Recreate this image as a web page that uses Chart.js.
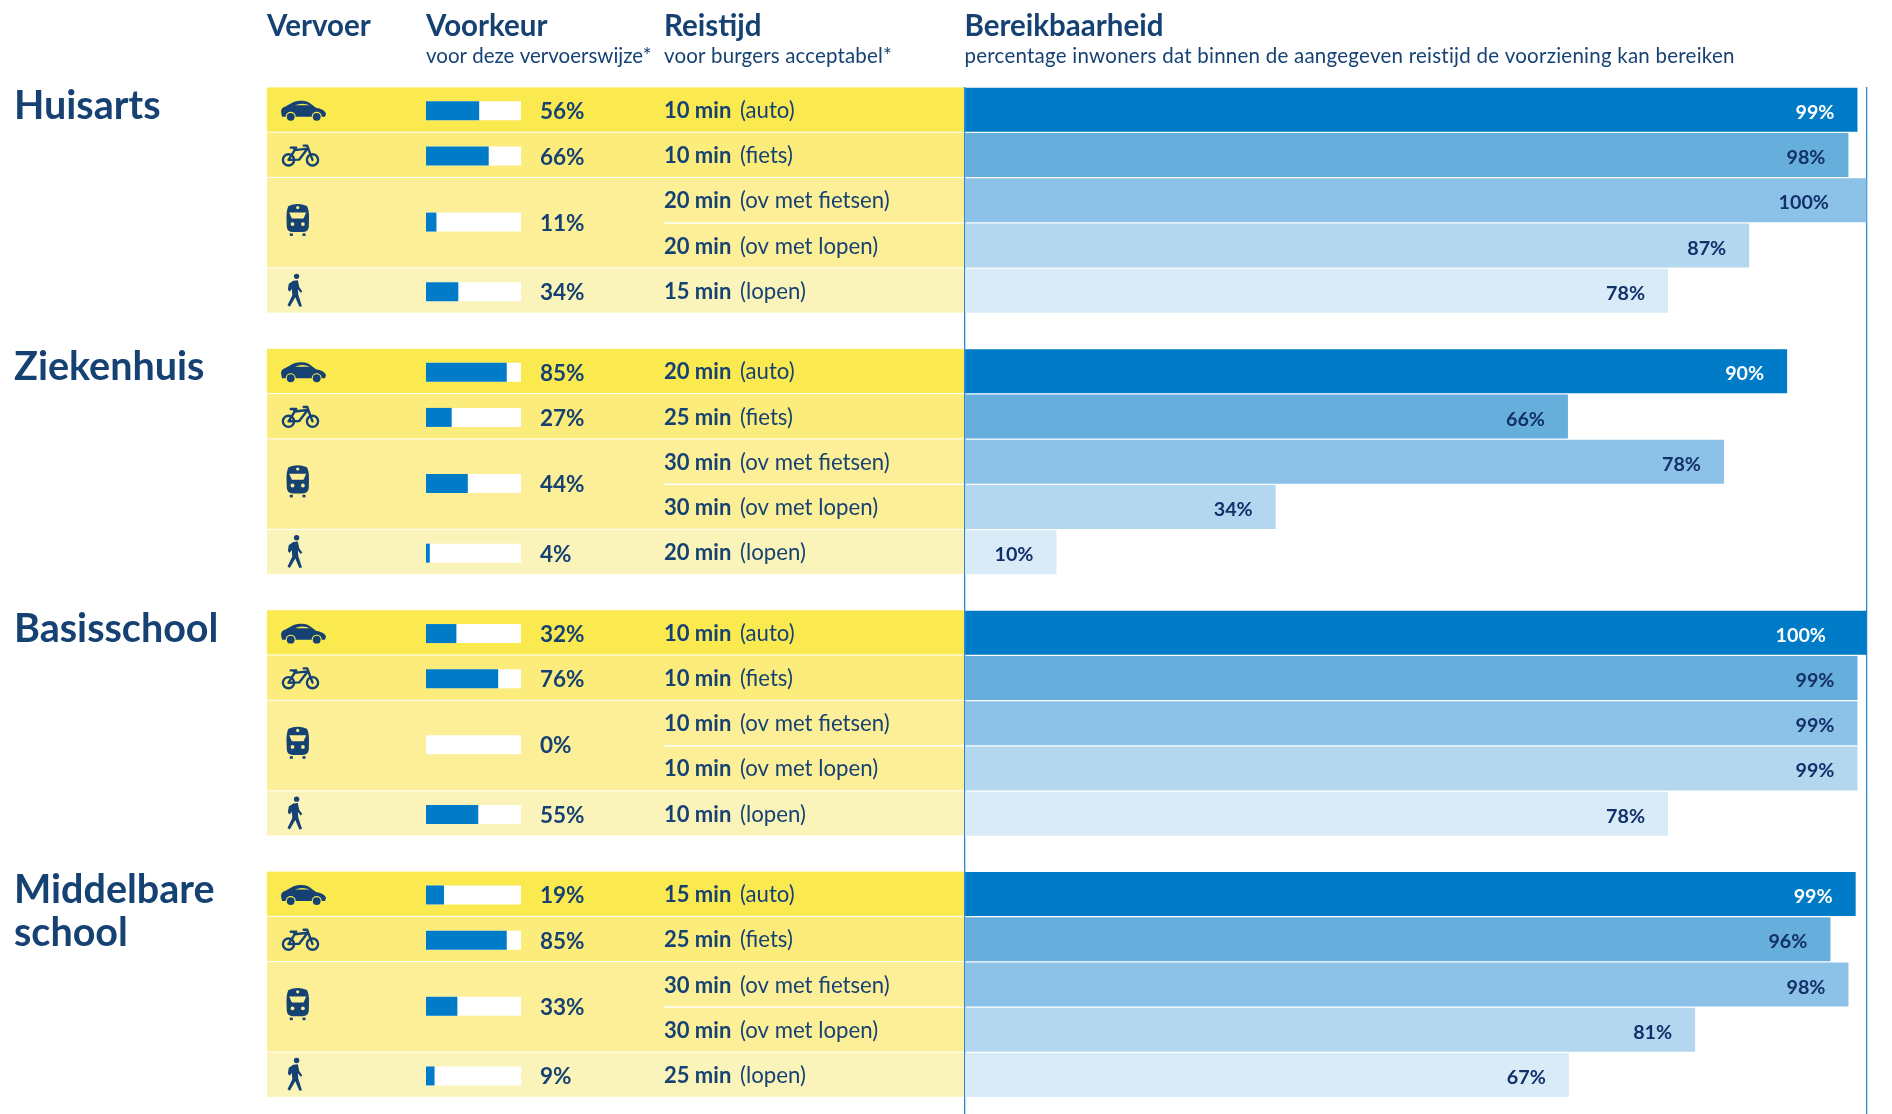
<!DOCTYPE html>
<html><head><meta charset="utf-8">
<style>html,body{margin:0;padding:0;background:#fff}canvas{display:block}</style>
<script src="https://cdn.jsdelivr.net/npm/chart.js@4"></script>
</head><body><canvas id="c" width="1892" height="1114"></canvas>
<script>
// ---- data ----
const groups = ["Huisarts","Ziekenhuis","Basisschool","Middelbare school"];
const groupLines = [["Huisarts"],["Ziekenhuis"],["Basisschool"],["Middelbare","school"]];
const modeLabels = ["auto","fiets","ov met fietsen","ov met lopen","lopen"];
const preferenceHuisarts = [56,66,11,34];
const preferenceZiekenhuis = [85,27,44,4];
const preferenceBasisschool = [32,76,0,55];
const preferenceMiddelbare = [19,85,33,9];
const minutesHuisarts = [10,10,20,20,15];
const minutesZiekenhuis = [20,25,30,30,20];
const minutesBasisschool = [10,10,10,10,10];
const minutesMiddelbare = [15,25,30,30,25];
// printed percentages
const reachHuisarts = [99,98,100,87,78];
const reachZiekenhuis = [90,66,78,34,10];
const reachBasisschool = [100,99,99,99,78];
const reachMiddelbare = [99,96,98,81,67];
// bar lengths as drawn in the picture (a few differ from what is printed on them)
const barHuisarts = [99,98,100,87,78];
const barZiekenhuis = [91.2,66.9,84.2,34.5,10.2];
const barBasisschool = [100,99,99,99,78];
const barMiddelbare = [98.8,96,98,81,67];
const preferenceAll = [preferenceHuisarts,preferenceZiekenhuis,preferenceBasisschool,preferenceMiddelbare];
const minutesAll = [minutesHuisarts,minutesZiekenhuis,minutesBasisschool,minutesMiddelbare];
const reachAll = [reachHuisarts,reachZiekenhuis,reachBasisschool,reachMiddelbare];
const barAll = [barHuisarts,barZiekenhuis,barBasisschool,barMiddelbare];

// ---- layout & style ----
const W=1892,H=1114, NAVY="#154273";
const reachColors=["#007bc7","#66aedc","#8cc2e7","#b2d7ef","#d9ebf7"];
const bandColors=["#fbe950","#fbec7b","#fcef98","#fbf4ba"];
const PITCH=45.25, STEP=261.4/PITCH, TOP=87, R0=109.85;
const REACH0=964.5, REACH100=1866.5, PREF0=426, PREF100=521;
const pos=(g,r)=>g*STEP+r;
const prefRow=[0.02,1.02,2.48,4.02];
const FONT='Lato';

const reachData=[], reachBg=[], prefData=[], trackData=[];
barAll.forEach((arr,g)=>arr.forEach((v,r)=>{reachData.push({x:v,y:pos(g,r)});reachBg.push(reachColors[r]);}));
preferenceAll.forEach((arr,g)=>arr.forEach((v,r)=>{prefData.push({x:v,y:pos(g,prefRow[r])});trackData.push({x:100,y:pos(g,prefRow[r])});}));

function txt(ctx,s,x,y,font,color,align,sp){
  ctx.font=font;ctx.fillStyle=color;ctx.textAlign=align||'left';ctx.textBaseline='alphabetic';
  ctx.letterSpacing=sp||'0px';ctx.fillText(s,x,y);ctx.letterSpacing='0px';
}
// icons, drawn around their centre
const iconDraw=[
 function car(c,x,y,bg){c.save();c.translate(x-22.5,y-10);c.fillStyle=NAVY;
   c.beginPath();c.moveTo(0,11);c.bezierCurveTo(0,8,2,6.5,4,6);c.lineTo(12,1.5);c.bezierCurveTo(15,.3,18,0,21,0);c.bezierCurveTo(25,0,28,1.5,31,4);c.lineTo(35,7);
   c.bezierCurveTo(40,8,44,9.5,45,13);c.lineTo(44,16);c.lineTo(1,16);c.closePath();c.fill();
   c.fillStyle=bg;c.beginPath();c.moveTo(14,4.5);c.quadraticCurveTo(21,1.2,29,4.5);c.closePath();c.fill();
   [[9.7,16],[35.7,16]].forEach(p=>{c.fillStyle=bg;c.beginPath();c.arc(p[0],p[1],5,0,7);c.fill();c.fillStyle=NAVY;c.beginPath();c.arc(p[0],p[1],3.9,0,7);c.fill();});c.restore();},
 function bike(c,x,y){c.save();c.translate(x-18.5,y-11);c.strokeStyle=NAVY;c.lineWidth=2.4;c.lineJoin='round';c.lineCap='round';
   [[6.3,15.8],[30.3,15.8]].forEach(p=>{c.beginPath();c.arc(p[0],p[1],5.6,0,7);c.stroke();});
   c.beginPath();c.moveTo(6.3,15.8);c.lineTo(12.5,6);c.lineTo(25.5,4.5);c.lineTo(17,15.5);c.closePath();c.moveTo(30.3,15.8);c.lineTo(25,1.5);c.lineTo(21.5,1.5);c.moveTo(12.5,6);c.lineTo(11.5,3.5);c.moveTo(8.5,3.5);c.lineTo(14,3.5);c.stroke();c.restore();},
 function train(c,x,y,bg){c.save();c.translate(x-11.3,y-16.3);c.fillStyle=NAVY;
   c.beginPath();c.moveTo(2,2.5);c.quadraticCurveTo(11.2,-1.5,20.4,2.5);c.quadraticCurveTo(22.5,6,22.5,14);c.lineTo(22.3,23);c.quadraticCurveTo(22,28.5,16,28.7);c.lineTo(6.5,28.7);c.quadraticCurveTo(.5,28.5,.3,23);c.lineTo(0,14);c.quadraticCurveTo(0,6,2,2.5);c.closePath();c.fill();
   c.fillStyle=bg;c.beginPath();c.moveTo(2.7,9);c.lineTo(19.7,9);c.lineTo(17,15);c.lineTo(5.4,15);c.closePath();c.fill();
   [[11.2,4.2,1.6],[6,20.7,1.9],[16.4,20.7,1.9]].forEach(p=>{c.beginPath();c.arc(p[0],p[1],p[2],0,7);c.fill();});
   c.fillStyle=NAVY;c.fillRect(3.3,30,3,2.6);c.fillRect(16,30,3,2.6);c.restore();},
 function walk(c,x,y){c.save();c.translate(x-7.5,y-16.5);c.fillStyle=NAVY;
   c.beginPath();c.arc(9.3,2.7,2.7,0,7);c.fill();
   c.beginPath();c.moveTo(6,7);c.lineTo(10.5,6.5);c.lineTo(12,13.5);c.lineTo(15,17.5);c.lineTo(13.5,19);c.lineTo(10.5,15.5);c.lineTo(11,21);c.lineTo(14.7,32.5);c.lineTo(12,33);c.lineTo(8,23.5);c.lineTo(2.5,33);c.lineTo(.2,31.5);c.lineTo(5,21.5);c.lineTo(4.5,15);c.lineTo(2.5,18);c.lineTo(.5,16);c.lineTo(1.5,10);c.closePath();c.fill();c.restore();}
];
const iconX=[303.5,300.7,297.8,294.8], iconRow=[0,1,2.5,4], iconDy=[1,0,-3.3,-0.7];

const furniture={id:'furniture',
 beforeDraw(ch){const c=ch.ctx,y=ch.scales.y;
  const px=v=>y.getPixelForValue(v);
  groups.forEach((_,g)=>{
   const spans=[[0,0,0],[1,1,1],[2,3,2],[4,4,3]];
   spans.forEach(s=>{c.fillStyle=bandColors[s[2]];const t=px(pos(g,s[0]))-22.4,b=px(pos(g,s[1]))+21.8;c.fillRect(267,t,REACH0-267,b-t);});
   c.fillStyle='#fff';c.fillRect(664,px(pos(g,2.5))-.7,REACH0-664,1.4);
  });
 },
 afterDatasetsDraw(ch){const c=ch.ctx,y=ch.scales.y,xr=ch.scales.x;
  const px=v=>y.getPixelForValue(v);
  // column heads
  const HB='700 29.5px '+FONT, SUB='400 20.5px '+FONT;
  txt(c,"Vervoer",267,36,HB,NAVY);
  txt(c,"Voorkeur",426,36,HB,NAVY);
  txt(c,"Reistijd",664,36,HB,NAVY);
  txt(c,"Bereikbaarheid",964.5,36,HB,NAVY);
  txt(c,"voor deze vervoerswijze*",426,63,SUB,NAVY);
  txt(c,"voor burgers acceptabel*",664,63,SUB,NAVY,'left','0.15px');
  txt(c,"percentage inwoners dat binnen de aangegeven reistijd de voorziening kan bereiken",964.5,63,SUB,NAVY,'left','0.24px');
  groups.forEach((_,g)=>{
   groupLines[g].forEach((l,i)=>txt(c,l,14,px(pos(g,0))+9+i*43,'700 39.5px '+FONT,NAVY));
   // icons
   iconDraw.forEach((fn,k)=>fn(c,iconX[k],px(pos(g,iconRow[k]))+iconDy[k],bandColors[k]));
   // preference labels
   preferenceAll[g].forEach((v,k)=>txt(c,v+'%',540,px(pos(g,prefRow[k]))+8.5,'700 22.5px '+FONT,NAVY));
   // travel time and reach labels
   modeLabels.forEach((m,r)=>{const ry=px(pos(g,r))+8;
     txt(c,minutesAll[g][r]+' min',664,ry,'700 22px '+FONT,NAVY);
     txt(c,'('+m+')',740,ry,'400 22.2px '+FONT,NAVY);
     const v=reachAll[g][r];
     const inset=v===100?(g===0?37.5:40.5):23;
     txt(c,v+'%',xr.getPixelForValue(barAll[g][r])-inset,ry+1,'700 19.7px '+FONT,r===0?'#ffffff':'#12306a','right');
   });
  });
 }};

const reachPerPx=100/(REACH100-REACH0), prefPerPx=100/(PREF100-PREF0);
new Chart(document.getElementById('c'),{
 type:'bar',
 plugins:[furniture],
 data:{datasets:[
  {label:'Voorkeur',data:prefData,xAxisID:'x2',yAxisID:'y',backgroundColor:'#007bc7',barThickness:19,grouped:false,order:1,inflateAmount:0},
  {label:'Voorkeur (schaal)',data:trackData,xAxisID:'x2',yAxisID:'y',backgroundColor:'#ffffff',barThickness:19,grouped:false,order:2,inflateAmount:0},
  {label:'Bereikbaarheid',data:reachData,xAxisID:'x',yAxisID:'y',backgroundColor:reachBg,barThickness:44,grouped:false,order:3,inflateAmount:0}
 ]},
 options:{
  indexAxis:'y',responsive:false,animation:false,
  layout:{padding:{top:TOP,left:0,right:0,bottom:0}},
  plugins:{legend:{display:false},title:{display:false},tooltip:{enabled:false}},
  scales:{
   y:{type:'linear',reverse:true,offset:false,min:-(R0-TOP)/PITCH,max:(H-R0)/PITCH,display:false},
   x:{type:'linear',position:'top',min:-REACH0*reachPerPx,max:(W-REACH0)*reachPerPx,
      afterBuildTicks(s){s.ticks=[{value:0},{value:100}];},
      border:{display:false},ticks:{display:false},
      grid:{drawTicks:false,color:'#2a8acb',lineWidth:1.3}},
   x2:{type:'linear',display:false,min:-PREF0*prefPerPx,max:(W-PREF0)*prefPerPx}
  }
 }
});
</script></body></html>
